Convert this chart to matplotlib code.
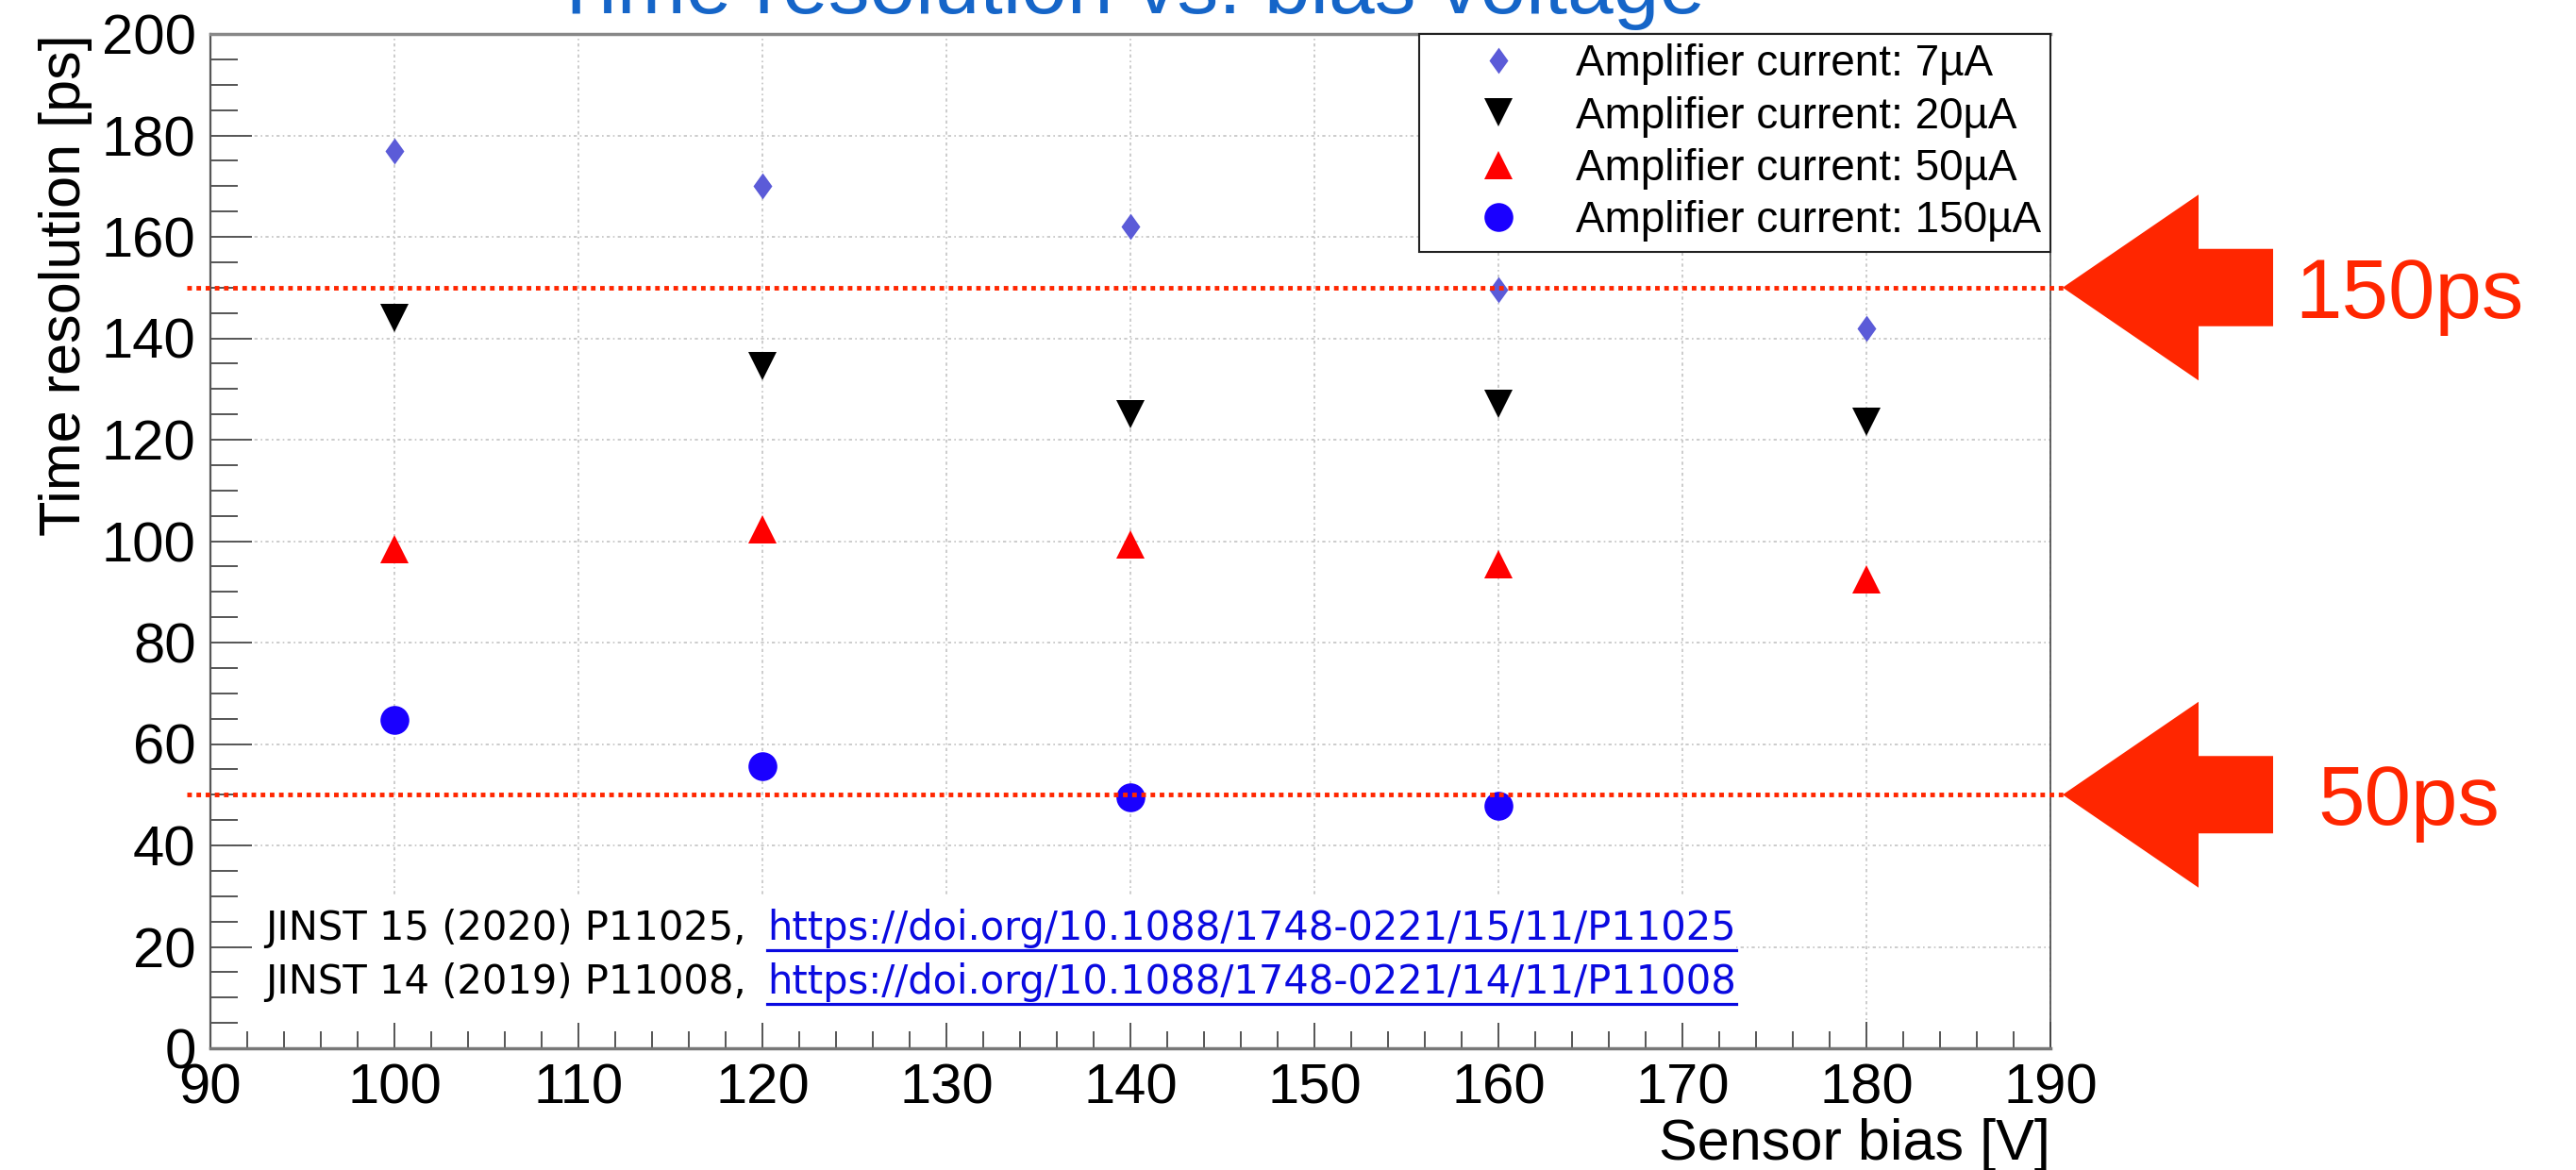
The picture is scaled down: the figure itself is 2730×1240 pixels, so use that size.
import matplotlib.pyplot as plt
from matplotlib.path import Path
from matplotlib.lines import Line2D
from matplotlib.patches import FancyArrow, Rectangle
from matplotlib.ticker import MultipleLocator
from matplotlib.transforms import blended_transform_factory, IdentityTransform

plt.rcParams['font.family'] = ['Liberation Sans', 'DejaVu Sans']

# measured time resolution [ps] per sensor bias [V]
bias_v = [100, 120, 140, 160, 180]
res_7ua = [177, 170, 162, 149.5, 142]
res_20ua = [144, 134.5, 125, 127, 123.5]
res_50ua = [98.5, 102.3, 99.3, 95.5, 92.5]
bias_v_150 = [100, 120, 140, 160]
res_150ua = [64.7, 55.7, 49.5, 47.8]

labels = ['Amplifier current: 7µA', 'Amplifier current: 20µA',
          'Amplifier current: 50µA', 'Amplifier current: 150µA']

targets = [150, 50]
target_labels = ['150ps', '50ps']

refs = ['JINST 15 (2020) P11025,', 'JINST 14 (2019) P11008,']
ref_links = ['https://doi.org/10.1088/1748-0221/15/11/P11025',
             'https://doi.org/10.1088/1748-0221/14/11/P11008']

W, H = 2730, 1240
DPI = 100
RED = '#ff2600'
LINK = '#0a0ae0'

fig = plt.figure(figsize=(W / DPI, H / DPI), dpi=DPI)
ax = fig.add_axes([223 / W, 1 - 1111 / H, 1950 / W, 1075 / H])


def px(x, y):
    # pixel position measured from the top-left corner -> inches
    return x / DPI, (H - y) / DPI


diamond = Path([(0, 1), (0.72, 0), (0, -1), (-0.72, 0), (0, 1)],
               [Path.MOVETO, Path.LINETO, Path.LINETO, Path.LINETO, Path.CLOSEPOLY])

ax.plot(bias_v, res_7ua, ls='none', marker=diamond, ms=20, color='#5b5bd8', mew=0, label=labels[0])
ax.plot(bias_v, res_20ua, ls='none', marker='v', ms=21.5, color='black', mew=0, label=labels[1])
ax.plot(bias_v, res_50ua, ls='none', marker='^', ms=21.5, color='#ff0000', mew=0, label=labels[2])
ax.plot(bias_v_150, res_150ua, ls='none', marker='o', ms=22, color='#1a00ff', mew=0, label=labels[3])

ax.set_xlim(90, 190)
ax.set_ylim(0, 200)
ax.xaxis.set_major_locator(MultipleLocator(10))
ax.xaxis.set_minor_locator(MultipleLocator(2))
ax.yaxis.set_major_locator(MultipleLocator(20))
ax.yaxis.set_minor_locator(MultipleLocator(5))

ax.set_axisbelow(True)
ax.grid(which='major', color='#c4c4c4', ls=(0, (2, 2, 1, 2)), lw=1.2)

ax.tick_params(which='both', direction='in', top=False, right=False,
               color='#555555', width=1.4, labelsize=43, pad=11)
ax.tick_params(axis='y', which='major', length=32)
ax.tick_params(axis='y', which='minor', length=21)
ax.tick_params(axis='x', which='major', length=20)
ax.tick_params(axis='x', which='minor', length=13)

for side, col, lw in [('left', '#555555', 1.6), ('bottom', '#777777', 2.5),
                      ('top', '#888888', 2.5), ('right', '#444444', 1.2)]:
    ax.spines[side].set_color(col)
    ax.spines[side].set_linewidth(lw)

ax.set_xlabel('Sensor bias [V]', fontsize=44, loc='right')
ax.xaxis.set_label_coords(1.0, -0.069)
ax.set_ylabel('Time resolution [ps]', fontsize=44, loc='top')
ax.yaxis.set_label_coords(-0.064, 1.0)

leg = ax.legend(loc='upper right', bbox_to_anchor=(1, 1), borderaxespad=0, fontsize=33,
                fancybox=False, edgecolor='#222222', framealpha=1, borderpad=0.22,
                labelspacing=0.25, handlelength=3.25, handletextpad=0.15, numpoints=1)
leg.get_frame().set_linewidth(1.5)

fig.text(1196 / W, 1 - 14 / H, 'Time resolution vs. bias voltage', ha='center', va='baseline',
         fontsize=63, color='#1565c8')

# white panel behind the references
x0, y0 = px(268, 1084)
ax.add_patch(Rectangle((x0, y0), (1840 - 268) / DPI, (1084 - 948) / DPI,
                       transform=fig.dpi_scale_trans, fc='white', ec='none', zorder=1))

link_texts = []
for i, (ref, link) in enumerate(zip(refs, ref_links)):
    base = 996 + 57 * i
    ax.text(*px(281, base), ref, transform=fig.dpi_scale_trans, fontsize=30,
            family='DejaVu Sans', va='baseline', zorder=3)
    t = ax.text(*px(813, base), link, transform=fig.dpi_scale_trans, fontsize=30,
                family='DejaVu Sans', va='baseline', color=LINK, zorder=3)
    link_texts.append((t, base))

# target lines with arrows
trans = blended_transform_factory(fig.dpi_scale_trans, ax.transData)
for val, lbl in zip(targets, target_labels):
    fig.add_artist(Line2D([1.98, 21.88], [val, val], transform=trans, color=RED, lw=3.5,
                          ls=(0, (1, 1)), dash_capstyle='butt', zorder=3))
    y_in = ax.transData.transform((100, val))[1] / DPI
    fig.add_artist(FancyArrow(24.09, y_in, -2.23, 0, width=0.82, head_width=1.97,
                              head_length=1.44, length_includes_head=True,
                              transform=fig.dpi_scale_trans, color=RED, lw=0, zorder=4))
    fig.text(25.53, y_in - 0.32, lbl, transform=fig.dpi_scale_trans, fontsize=64,
             color=RED, ha='center', va='baseline')

# underline the links
fig.canvas.draw()
renderer = fig.canvas.get_renderer()
for t, base in link_texts:
    bb = t.get_window_extent(renderer)
    yl = H - (base + 11)
    fig.add_artist(Line2D([bb.x0, bb.x1], [yl, yl], transform=IdentityTransform(),
                          color=LINK, lw=2.3, zorder=5))

fig.savefig('out.png', dpi=DPI, facecolor='white')
